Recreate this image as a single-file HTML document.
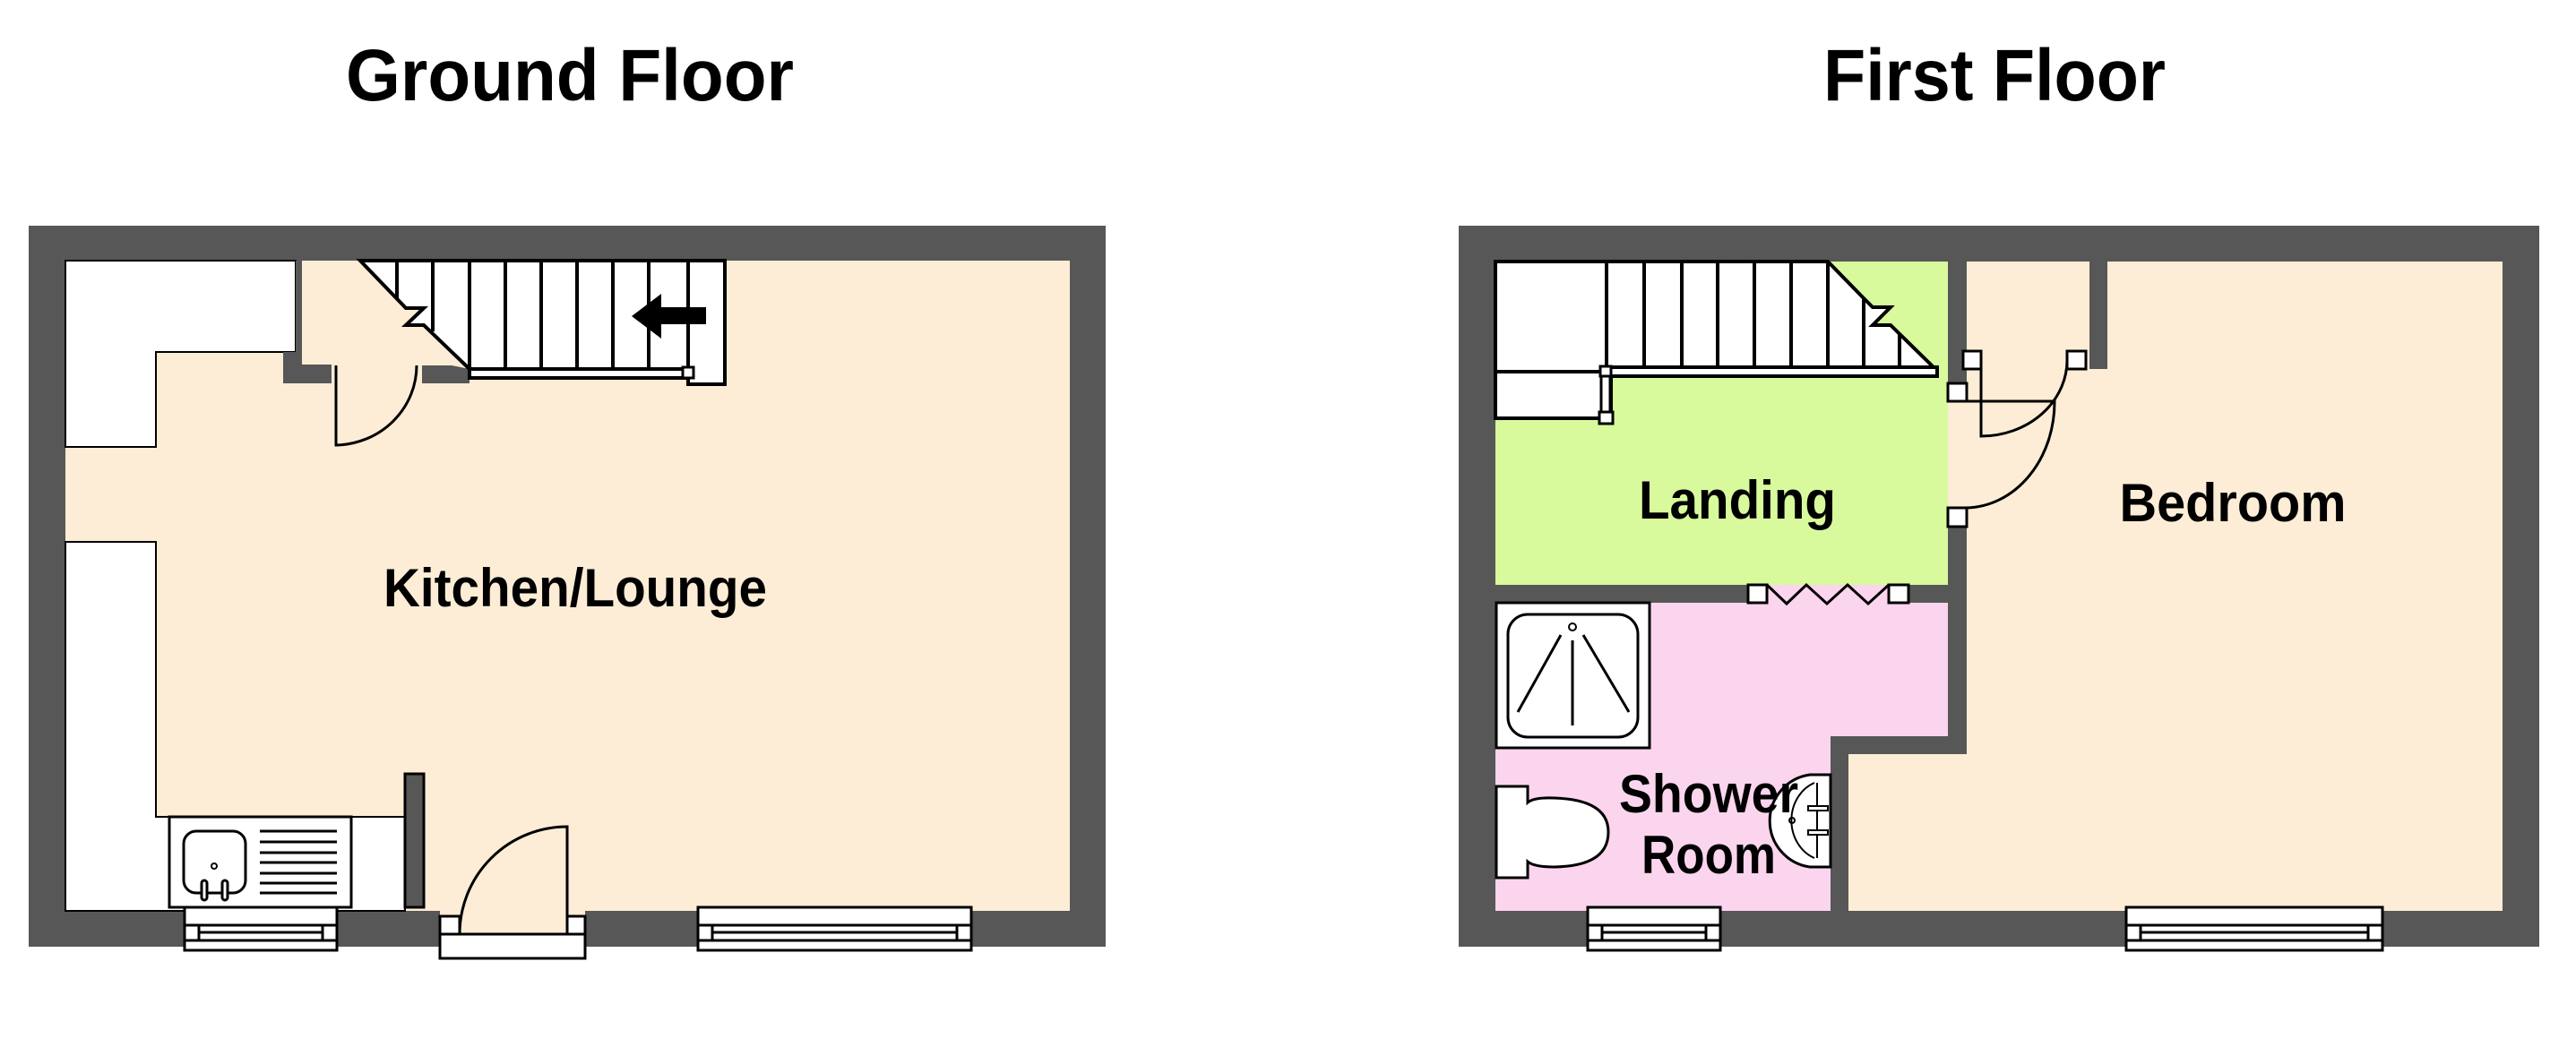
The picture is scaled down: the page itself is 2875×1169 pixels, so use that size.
<!DOCTYPE html>
<html><head><meta charset="utf-8"><style>
html,body{margin:0;padding:0;background:#fff;}
svg{display:block;}
text{font-family:"Liberation Sans",Arial,sans-serif;font-weight:bold;fill:#000;}
</style></head><body>
<svg width="2875" height="1169" viewBox="0 0 2875 1169" xmlns="http://www.w3.org/2000/svg">
<rect width="2875" height="1169" fill="#fff"/>
<text x="636" y="112" font-size="82" text-anchor="middle" textLength="500" lengthAdjust="spacingAndGlyphs">Ground Floor</text>
<text x="2226" y="112" font-size="82" text-anchor="middle" textLength="382" lengthAdjust="spacingAndGlyphs">First Floor</text>

<!-- ===== GROUND FLOOR ===== -->
<rect x="32" y="252" width="1202" height="805" fill="#575757"/>
<rect x="73" y="291" width="1121" height="726" fill="#FDEDD6"/>
<polygon points="73,291 330,291 330,393 174,393 174,499 73,499" fill="#fff" stroke="#000" stroke-width="2"/>
<polygon points="73,605 174,605 174,912 452,912 452,1017 73,1017" fill="#fff" stroke="#000" stroke-width="2"/>
<polygon points="330,291 337,291 337,407 370,407 370,428 316,428 316,393 330,393" fill="#575757"/>
<polygon points="471,408 504,408 524,412 524,428 471,428" fill="#575757"/>
<polygon points="402,291 809,291 809,429 768,429 768,422 524,422 524,412 473,363 453,363 473,344 453,344" fill="#fff" stroke="#000" stroke-width="4" stroke-linejoin="miter"/>
<g stroke="#000" stroke-width="4">
<line x1="443" y1="291" x2="443" y2="333"/>
<line x1="483" y1="291" x2="483" y2="370"/>
<line x1="524" y1="291" x2="524" y2="412"/>
<line x1="564" y1="291" x2="564" y2="412"/>
<line x1="604" y1="291" x2="604" y2="412"/>
<line x1="644" y1="291" x2="644" y2="412"/>
<line x1="684" y1="291" x2="684" y2="412"/>
<line x1="724" y1="291" x2="724" y2="412"/>
<line x1="768" y1="291" x2="768" y2="429"/>
<line x1="524" y1="412" x2="768" y2="412"/>
</g>
<rect x="762" y="410" width="12" height="12" fill="#fff" stroke="#000" stroke-width="3"/>
<polygon points="705,353 738,328 738,343 788,343 788,362 738,362 738,378" fill="#000"/>
<path d="M375,408 L375,497 A92 89 0 0 0 465,408" fill="none" stroke="#000" stroke-width="3"/>
<text x="642" y="677" font-size="60" text-anchor="middle" textLength="428" lengthAdjust="spacingAndGlyphs">Kitchen/Lounge</text>
<rect x="189" y="912" width="203" height="101" fill="#fff" stroke="#000" stroke-width="3"/>
<rect x="205" y="928" width="69" height="69" rx="14" fill="#fff" stroke="#000" stroke-width="3"/>
<circle cx="239" cy="967" r="3" fill="none" stroke="#000" stroke-width="2"/>
<rect x="225" y="983" width="6" height="22" rx="3" fill="#fff" stroke="#000" stroke-width="3"/>
<rect x="248" y="983" width="6" height="22" rx="3" fill="#fff" stroke="#000" stroke-width="3"/>
<g stroke="#000" stroke-width="3">
<line x1="290" y1="928" x2="376" y2="928"/><line x1="290" y1="940" x2="376" y2="940"/>
<line x1="290" y1="952" x2="376" y2="952"/><line x1="290" y1="963" x2="376" y2="963"/>
<line x1="290" y1="975" x2="376" y2="975"/><line x1="290" y1="986" x2="376" y2="986"/>
<line x1="290" y1="997" x2="376" y2="997"/>
</g>
<rect x="452" y="864" width="21" height="149" fill="#575757" stroke="#000" stroke-width="3"/>
<rect x="491" y="1013" width="162" height="30" fill="#FDEDD6"/>
<rect x="491" y="1023" width="22" height="20" fill="#fff" stroke="#000" stroke-width="3"/>
<rect x="633" y="1023" width="20" height="20" fill="#fff" stroke="#000" stroke-width="3"/>
<rect x="491" y="1043" width="162" height="27" fill="#fff" stroke="#000" stroke-width="3"/>
<path d="M633,1043 L633,923 A120 120 0 0 0 513,1043" fill="none" stroke="#000" stroke-width="3"/>
<g fill="#fff" stroke="#000" stroke-width="3">
<rect x="206" y="1013" width="170" height="48"/><line x1="206" y1="1033" x2="376" y2="1033"/><line x1="206" y1="1050" x2="376" y2="1050"/><rect x="222" y="1033" width="138" height="17"/><line x1="222" y1="1041" x2="360" y2="1041"/>
<rect x="779" y="1013" width="305" height="48"/><line x1="779" y1="1033" x2="1084" y2="1033"/><line x1="779" y1="1050" x2="1084" y2="1050"/><rect x="795" y="1033" width="273" height="17"/><line x1="795" y1="1041" x2="1068" y2="1041"/>
</g>

<!-- ===== FIRST FLOOR ===== -->
<rect x="1628" y="252" width="1206" height="805" fill="#575757"/>
<rect x="1669" y="292" width="1124" height="725" fill="#FDEDD6"/>
<rect x="1669" y="292" width="505" height="361" fill="#D8FA9C"/>
<rect x="1669" y="673" width="505" height="149" fill="#FBD5EE"/>
<rect x="1669" y="822" width="374" height="195" fill="#FBD5EE"/>
<rect x="2174" y="292" width="21" height="136" fill="#575757"/>
<rect x="2174" y="588" width="21" height="254" fill="#575757"/>
<rect x="2332" y="292" width="20" height="120" fill="#575757"/>
<rect x="1669" y="653" width="505" height="20" fill="#575757"/>
<rect x="2043" y="822" width="152" height="20" fill="#575757"/>
<rect x="2043" y="822" width="20" height="195" fill="#575757"/>
<rect x="1972" y="653" width="136" height="20" fill="#FBD5EE"/>
<rect x="1951" y="653" width="21" height="20" fill="#fff" stroke="#000" stroke-width="3"/>
<rect x="2108" y="653" width="22" height="20" fill="#fff" stroke="#000" stroke-width="3"/>
<polyline points="1972,653 1994,674 2016,653 2039,674 2062,653 2085,674 2108,653" fill="none" stroke="#000" stroke-width="3"/>
<polygon points="1669,292 2040,292 2080,333 2090,343 2110,343 2090,363 2110,363 2158,410 2162,410 2162,420 1798,420 1798,467 1669,467" fill="#fff" stroke="#000" stroke-width="4"/>
<g stroke="#000" stroke-width="4">
<line x1="1793" y1="292" x2="1793" y2="412"/>
<line x1="1835" y1="292" x2="1835" y2="410"/><line x1="1877" y1="292" x2="1877" y2="410"/>
<line x1="1917" y1="292" x2="1917" y2="410"/><line x1="1958" y1="292" x2="1958" y2="410"/>
<line x1="1999" y1="292" x2="1999" y2="410"/><line x1="2040" y1="292" x2="2040" y2="410"/>
<line x1="2080" y1="333" x2="2080" y2="410"/><line x1="2120" y1="373" x2="2120" y2="410"/>
<line x1="1793" y1="410" x2="2162" y2="410"/>
<line x1="1669" y1="415" x2="1793" y2="415"/>
</g>
<rect x="1786" y="409" width="12" height="11" fill="#fff" stroke="#000" stroke-width="3"/>
<rect x="1787" y="420" width="10" height="42" fill="#fff" stroke="#000" stroke-width="3"/>
<rect x="1785" y="460" width="15" height="13" fill="#fff" stroke="#000" stroke-width="3"/>
<g fill="#fff" stroke="#000" stroke-width="3">
<rect x="2174" y="428" width="21" height="20"/>
<rect x="2191" y="392" width="20" height="20"/>
<rect x="2307" y="392" width="21" height="20"/>
<rect x="2174" y="567" width="21" height="21"/>
</g>
<path d="M2195,448 L2293,448 A100 118 0 0 1 2195,567" fill="none" stroke="#000" stroke-width="3"/>
<path d="M2211,412 L2211,487 A96 85 0 0 0 2307,400" fill="none" stroke="#000" stroke-width="3"/>
<rect x="1670" y="673" width="171" height="162" fill="#fff" stroke="#000" stroke-width="3"/>
<rect x="1683" y="686" width="145" height="137" rx="22" fill="#fff" stroke="#000" stroke-width="3"/>
<ellipse cx="1755" cy="700" rx="4" ry="4" fill="none" stroke="#000" stroke-width="2"/>
<g stroke="#000" stroke-width="3">
<line x1="1742" y1="709" x2="1694" y2="795"/><line x1="1767" y1="709" x2="1818" y2="795"/><line x1="1755" y1="715" x2="1755" y2="810"/>
</g>
<path d="M1670,878 L1705,878 L1705,896 Q1712,890 1735,891 Q1795,893 1795,929 Q1795,967 1735,968 Q1712,968 1705,962 L1705,980 L1670,980 Z" fill="#fff" stroke="#000" stroke-width="3"/>
<path d="M2043,865 L2020,865 A52 52 0 0 0 2020,968 L2043,968 Z" fill="#fff" stroke="#000" stroke-width="3"/>
<path d="M2025,874 A40 45 0 0 0 2025,958" fill="none" stroke="#000" stroke-width="2"/>
<line x1="2028" y1="874" x2="2028" y2="958" stroke="#000" stroke-width="2"/>
<rect x="2018" y="900" width="22" height="5" fill="#fff" stroke="#000" stroke-width="2"/>
<rect x="2018" y="927" width="22" height="5" fill="#fff" stroke="#000" stroke-width="2"/>
<circle cx="2000" cy="916" r="3" fill="none" stroke="#000" stroke-width="2"/>
<g fill="#fff" stroke="#000" stroke-width="3">
<rect x="1772" y="1013" width="148" height="48"/><line x1="1772" y1="1033" x2="1920" y2="1033"/><line x1="1772" y1="1050" x2="1920" y2="1050"/><rect x="1788" y="1033" width="116" height="17"/><line x1="1788" y1="1041" x2="1904" y2="1041"/>
<rect x="2373" y="1013" width="286" height="48"/><line x1="2373" y1="1033" x2="2659" y2="1033"/><line x1="2373" y1="1050" x2="2659" y2="1050"/><rect x="2389" y="1033" width="254" height="17"/><line x1="2389" y1="1041" x2="2643" y2="1041"/>
</g>
<text x="1939" y="579" font-size="60" text-anchor="middle" textLength="220" lengthAdjust="spacingAndGlyphs">Landing</text>
<text x="2492" y="582" font-size="60" text-anchor="middle" textLength="253" lengthAdjust="spacingAndGlyphs">Bedroom</text>
<text x="1907" y="907" font-size="60" text-anchor="middle" textLength="200" lengthAdjust="spacingAndGlyphs">Shower</text>
<text x="1907" y="975" font-size="60" text-anchor="middle" textLength="150" lengthAdjust="spacingAndGlyphs">Room</text>
</svg>
</body></html>
